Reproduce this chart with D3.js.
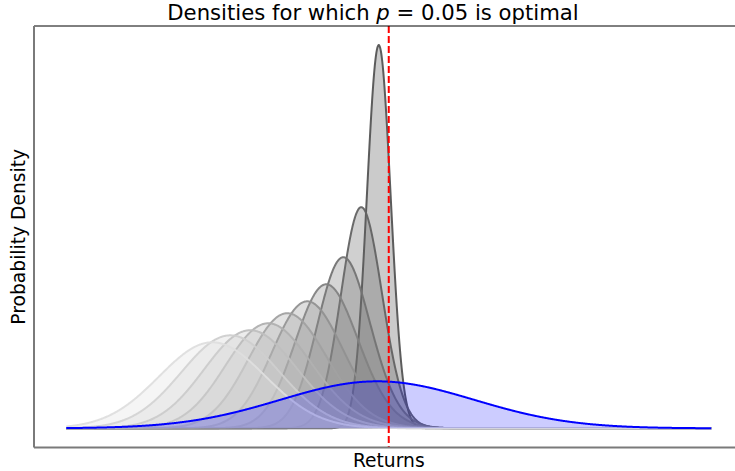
<!DOCTYPE html>
<html>
<head>
<meta charset="utf-8">
<script src="https://cdn.jsdelivr.net/npm/d3@7"></script>
<style>
  html, body { margin: 0; padding: 0; background: #fff; }
  svg { display: block; }
</style>
</head>
<body>
<svg id="chart" width="735" height="471"></svg>
<script>
// ---- data ----
const title = ["Densities for which ", "p", " = 0.05 is optimal"];
const xLabel = "Returns";
const yLabel = "Probability Density";
const returnRange = [-4, 4];
// grey skewed densities (spike first, widest last)
const greyMode   = [-0.124, -0.341, -0.564, -0.775, -1.011, -1.259, -1.495, -1.718, -1.966, -2.189];
const greyPeak   = [2.703, 1.560, 1.207, 1.016, 0.896, 0.812, 0.741, 0.692, 0.656, 0.607];
const greyShape  = [0.3, 0.8, 1.0, 1.0, 1.0, 1.0, 1.0, 0.8, 0.6, 0.4];
const greyLevel  = [0.33, 0.39, 0.45, 0.51, 0.57, 0.63, 0.69, 0.75, 0.81, 0.87];
// normal density
const normalMean = -0.143;
const normalSd = 1.203;
const optimalReturn = 0.0;

// ---- helpers ----
function erf(x) {
  const s = Math.sign(x); x = Math.abs(x);
  const t = 1 / (1 + 0.3275911 * x);
  const y = 1 - (((((1.061405429 * t - 1.453152027) * t) + 1.421413741) * t - 0.284496736) * t + 0.254829592) * t * Math.exp(-x * x);
  return s * y;
}
const phi = z => Math.exp(-0.5 * z * z) / Math.sqrt(2 * Math.PI);
const Phi = z => 0.5 * (1 + erf(z / Math.SQRT2));
function skewStd(a) {
  let best = -1, zb = 0;
  for (let z = -4; z <= 4; z += 0.0005) {
    const g = 2 * phi(z) * Phi(a * z);
    if (g > best) { best = g; zb = z; }
  }
  return { zMode: zb, gMax: best };
}

const N = 1200;
const grid = d3.range(N + 1).map(i => returnRange[0] + (returnRange[1] - returnRange[0]) * i / N);

const greyCurves = greyMode.map((m, i) => {
  const a = greyShape[i];
  const { zMode, gMax } = skewStd(a);
  const w = gMax / greyPeak[i];
  const xi = m - w * zMode;
  return grid.map(x => {
    const z = (x - xi) / w;
    return [x, 2 / w * phi(z) * Phi(a * z)];
  });
});
const normalCurve = grid.map(x => [x, phi((x - normalMean) / normalSd) / normalSd]);

// ---- layout ----
const svg = d3.select("#chart");
const L = 34, R = 743.5, T = 26, B = 447.5;
const span = returnRange[1] - returnRange[0];
const x = d3.scaleLinear()
  .domain([returnRange[0] - 0.05 * span, returnRange[1] + 0.05 * span])
  .range([L, R]);
const yMax = d3.max(greyCurves.concat([normalCurve]), c => d3.max(c, d => d[1]));
const y = d3.scaleLinear().domain([-0.05 * yMax, 1.05 * yMax]).range([B, T]);

const area = d3.area().x(d => x(d[0])).y0(y(0)).y1(d => y(d[1]));
const line = d3.line().x(d => x(d[0])).y(d => y(d[1]));

const g = svg.append("g");
greyCurves.forEach((c, i) => {
  const v = Math.round(greyLevel[i] * 255);
  const col = `rgb(${v},${v},${v})`;
  g.append("path").attr("d", area(c)).attr("fill", col).attr("fill-opacity", 0.3);
  g.append("path").attr("d", line(c)).attr("fill", "none").attr("stroke", col)
    .attr("stroke-width", 2).attr("stroke-opacity", 0.95);
});
g.append("path").attr("d", area(normalCurve)).attr("fill", "blue").attr("fill-opacity", 0.2);
g.append("path").attr("d", line(normalCurve)).attr("fill", "none").attr("stroke", "blue").attr("stroke-width", 2);

g.append("line").attr("x1", x(optimalReturn)).attr("x2", x(optimalReturn))
  .attr("y1", T).attr("y2", B).attr("stroke", "red").attr("stroke-width", 2)
  .attr("stroke-dasharray", "7,3");

// spines
svg.append("line").attr("x1", L).attr("x2", 735).attr("y1", T).attr("y2", T).attr("stroke", "black").attr("stroke-width", 1);
svg.append("line").attr("x1", L).attr("x2", L).attr("y1", T).attr("y2", B).attr("stroke", "#7a7a7a").attr("stroke-width", 2);
svg.append("line").attr("x1", L).attr("x2", 735).attr("y1", B).attr("y2", B).attr("stroke", "#7a7a7a").attr("stroke-width", 2);

// texts
const t = svg.append("text").attr("x", 373).attr("y", 20).attr("text-anchor", "middle")
  .attr("font-family", "DejaVu Sans").attr("font-size", 21.2).attr("fill", "black");
t.append("tspan").text(title[0]);
t.append("tspan").attr("font-style", "italic").text(title[1]);
t.append("tspan").text(title[2]);

svg.append("text").attr("x", (L + R) / 2).attr("y", 467).attr("text-anchor", "middle")
  .attr("font-family", "DejaVu Sans").attr("font-size", 18.7).text(xLabel);
svg.append("text").attr("transform", `translate(25,${(T + B) / 2}) rotate(-90)`).attr("text-anchor", "middle")
  .attr("font-family", "DejaVu Sans").attr("font-size", 18.7).text(yLabel);
</script>
</body>
</html>
